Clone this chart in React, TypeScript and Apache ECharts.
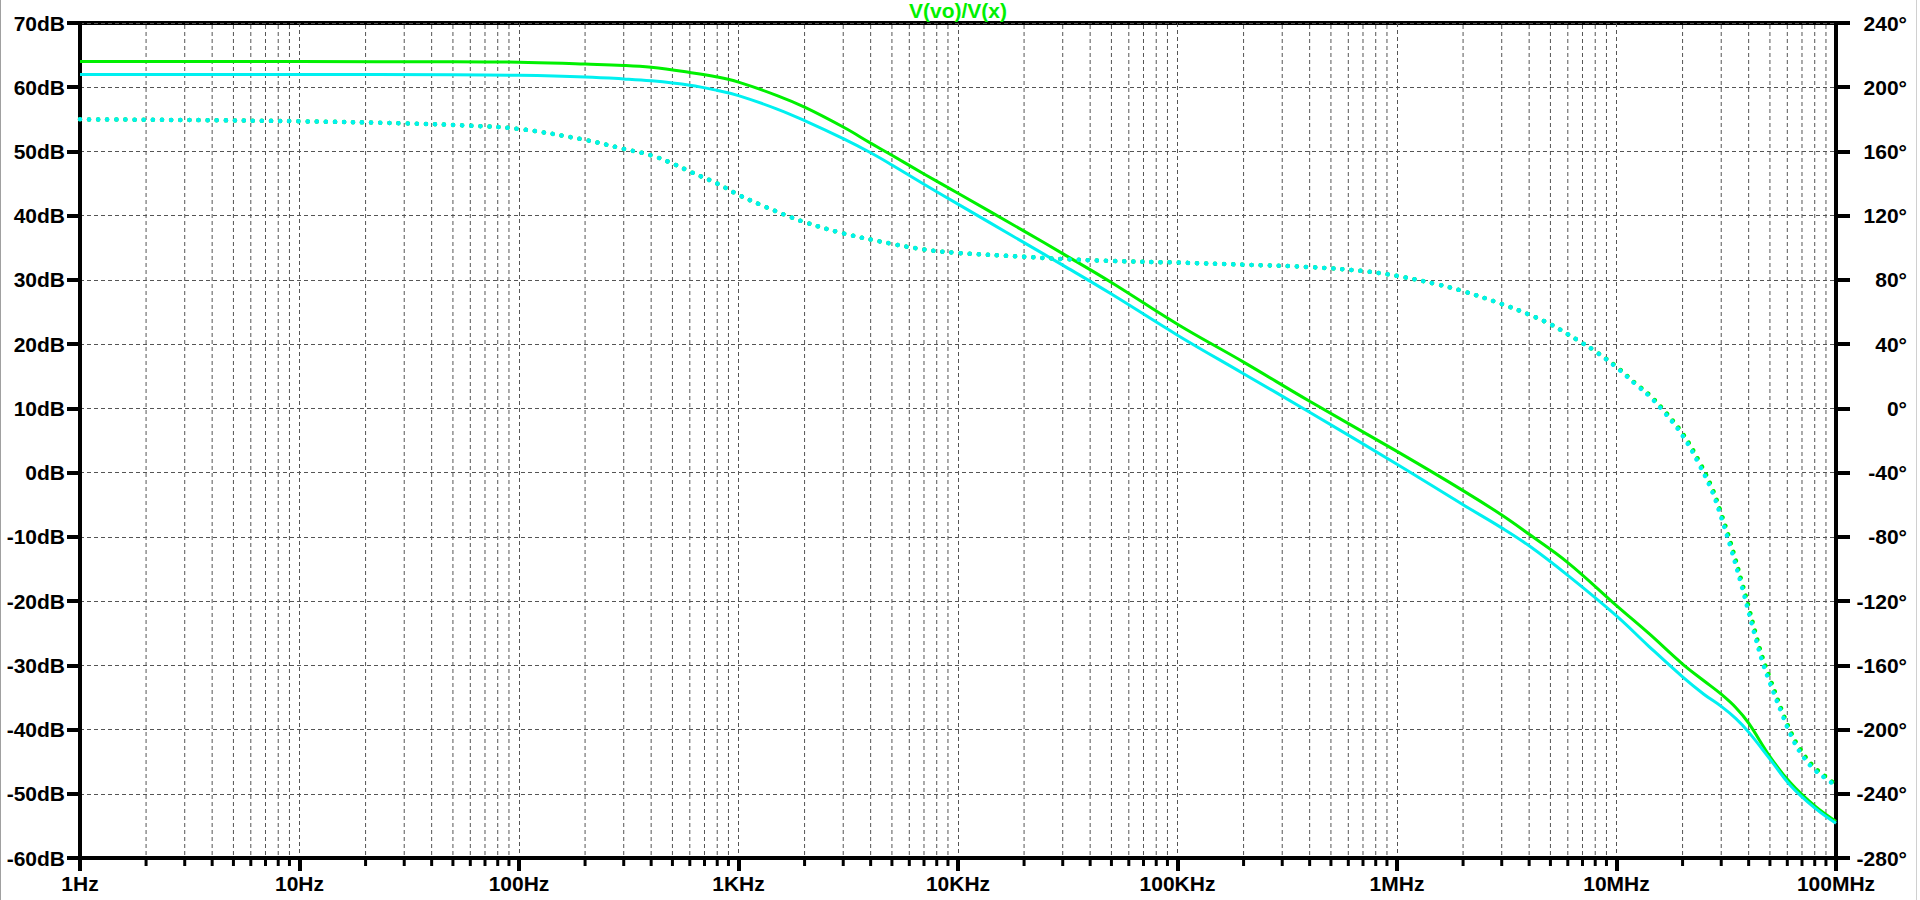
import React, { useEffect, useRef } from "react";
import * as echarts from "echarts";

// ---------- data ----------
const X_LABELS = ["1Hz", "10Hz", "100Hz", "1KHz", "10KHz", "100KHz", "1MHz", "10MHz", "100MHz"];
const DECADES = [1, 10, 100, 1e3, 1e4, 1e5, 1e6, 1e7];
const MINOR_MULTIPLIERS = [2, 3, 4, 5, 6, 7, 8, 9];

const FREQ_MAG = [
  1, 10, 50, 100, 200, 300, 400, 600, 800, 1000, 1500, 2000, 3000, 4000, 5000, 7000,
  1e4, 2e4, 3e4, 5e4, 1e5, 2e5, 4e5, 1e6, 2e6, 3e6, 4e6, 6e6, 1e7, 1.4e7, 2e7,
  2.5e7, 3e7, 3.5e7, 4e7, 5e7, 6.2e7, 8e7, 1e8,
];
const GREEN_MAG = [
  64.0, 64.0, 63.95, 63.9, 63.6, 63.4, 63.1, 62.3, 61.6, 60.8, 58.7, 56.9, 53.8, 51.3, 49.4, 46.5,
  43.5, 37.6, 34.1, 29.6, 23.1, 17.2, 11.1, 3.3, -2.8, -6.6, -9.6, -14.0, -20.7, -25.0, -29.8,
  -32.4, -34.5, -36.6, -39.0, -44.2, -48.3, -51.9, -54.3,
];
const CYAN_MAG = [
  62.0, 62.0, 61.95, 61.85, 61.6, 61.3, 61.0, 60.3, 59.5, 58.7, 56.6, 54.8, 52.0, 49.8, 47.9, 44.9,
  41.8, 35.8, 32.3, 27.8, 21.4, 15.4, 9.4, 1.3, -5.0, -8.6, -11.4, -16.0, -22.3, -27.0, -31.8,
  -34.5, -36.4, -38.3, -40.4, -44.6, -48.7, -52.2, -54.6,
];

const FREQ_PHASE = [
  1, 3, 10, 30, 60, 100, 200, 300, 400, 500, 600, 800, 1000, 1300, 1700, 2000, 3000, 5000, 7000,
  1e4, 2e4, 3e4, 5e4, 1e5, 2e5, 4e5, 7e5, 1e6, 1.5e6, 2e6, 3e6, 4e6, 5e6, 6e6, 7e6, 8e6,
  1e7, 1.22e7, 1.4e7, 1.64e7, 2e7, 2.38e7, 2.73e7, 3e7, 3.3e7, 3.74e7, 4e7, 4.3e7, 4.6e7,
  5e7, 5.7e7, 6.2e7, 6.85e7, 7.9e7, 9.3e7, 1e8,
];
const GREEN_PHASE = [
  180.0, 179.6, 178.8, 177.5, 176.0, 174.0, 167.2, 161.6, 157.6, 152.5, 147.5, 140.0, 133.0, 126.0, 119.5, 116.0, 109.0, 102.5, 99.0,
  96.8, 94.4, 93.0, 91.8, 90.8, 89.5, 88.0, 85.5, 82.5, 77.5, 73.0, 65.0, 58.4, 52.4, 46.2, 40.6, 35.6,
  26.0, 15.6, 8.9, -1.0, -15.6, -33.0, -49.9, -65.5, -83.0, -109.0, -123.6, -140.0, -154.0,
  -168.0, -189.0, -201.0, -212.0, -223.0, -231.0, -234.5,
];
const CYAN_PHASE = [
  180.0, 179.6, 178.8, 177.5, 176.0, 174.0, 167.2, 161.6, 157.6, 152.5, 147.5, 140.0, 133.0, 126.0, 119.5, 116.0, 109.0, 102.5, 99.0,
  96.8, 94.4, 93.0, 91.8, 90.8, 89.5, 88.0, 85.5, 82.5, 77.5, 73.0, 65.0, 58.4, 52.4, 46.2, 40.6, 35.6,
  25.5, 15.0, 8.0, -2.0, -17.0, -35.0, -52.0, -68.0, -86.0, -112.0, -127.0, -143.0, -157.0,
  -171.0, -191.0, -203.0, -214.0, -224.5, -232.0, -235.0,
];

const GREEN = "#00f000";
const CYAN = "#00f0f0";
const FONT = "'Liberation Sans', Arial, sans-serif";

const pairs = (xs: number[], ys: number[]) => xs.map((x, i) => [x, ys[i]]);

export default function App() {
  const ref = useRef<HTMLDivElement>(null);

  useEffect(() => {
    if (!ref.current) return;
    const chart = echarts.init(ref.current, undefined, { renderer: "svg" });

    const minorFreqs: number[][] = [];
    DECADES.forEach((d) => MINOR_MULTIPLIERS.forEach((m) => minorFreqs.push([d * m, -60])));

    const labelStyle = {
      color: "#000",
      fontFamily: FONT,
      fontWeight: "bold" as const,
      fontSize: 21,
    };
    const gridLine = {
      show: true,
      lineStyle: { color: "#555", width: 1, type: [4, 3] as number[] },
    };

    chart.setOption({
      animation: false,
      backgroundColor: "#fff",
      grid: {
        left: 80,
        right: 84,
        top: 23,
        bottom: 42,
        show: true,
        borderColor: "#000",
        borderWidth: 4,
        backgroundColor: "#fff",
      },
      graphic: [
        {
          type: "text",
          x: 958,
          y: 0,
          style: {
            text: "V(vo)/V(x)",
            fill: GREEN,
            font: `bold 21px ${FONT}`,
            textAlign: "center",
            textVerticalAlign: "top",
          },
        },
        { type: "rect", shape: { x: 0, y: 0, width: 1, height: 900 }, style: { fill: "#a0a0a0" } },
        { type: "rect", shape: { x: 1916, y: 0, width: 1, height: 900 }, style: { fill: "#d0d0d0" } },
      ],
      xAxis: {
        type: "log",
        logBase: 10,
        min: 1,
        max: 1e8,
        splitNumber: 8,
        axisLine: { show: true, onZero: false, lineStyle: { color: "#000", width: 4 } },
        axisTick: { show: true, inside: false, length: 13, lineStyle: { color: "#000", width: 4 } },
        minorTick: { show: false },
        splitLine: gridLine,
        axisLabel: {
          ...labelStyle,
          margin: 15,
          formatter: (v: number) => X_LABELS[Math.round(Math.log10(v))] ?? "",
        },
      },
      yAxis: [
        {
          type: "value",
          min: -60,
          max: 70,
          interval: 10,
          position: "left",
          axisLine: { show: true, onZero: false, lineStyle: { color: "#000", width: 4 } },
          axisTick: { show: true, inside: false, length: 13, lineStyle: { color: "#000", width: 4 } },
          splitLine: gridLine,
          axisLabel: { ...labelStyle, margin: 15, formatter: (v: number) => `${v}dB` },
        },
        {
          type: "value",
          min: -280,
          max: 240,
          interval: 40,
          position: "right",
          axisLine: { show: true, onZero: false, lineStyle: { color: "#000", width: 4 } },
          axisTick: { show: true, inside: false, length: 14, lineStyle: { color: "#000", width: 4 } },
          splitLine: { show: false },
          axisLabel: { ...labelStyle, margin: 71, align: "right", formatter: (v: number) => `${v}°` },
        },
      ],
      series: [
        {
          type: "custom",
          name: "minor",
          xAxisIndex: 0,
          yAxisIndex: 0,
          clip: false,
          silent: true,
          z: 1,
          data: minorFreqs,
          renderItem: (_params: any, api: any) => {
            const v = api.value(0);
            const top = api.coord([v, 70]);
            const bot = api.coord([v, -60]);
            return {
              type: "group",
              children: [
                {
                  type: "line",
                  shape: { x1: top[0], y1: top[1] + 2, x2: bot[0], y2: bot[1] - 2 },
                  style: { stroke: "#555", lineWidth: 1, lineDash: [4, 3] },
                },
                {
                  type: "line",
                  shape: { x1: bot[0], y1: bot[1], x2: bot[0], y2: bot[1] + 8 },
                  style: { stroke: "#000", lineWidth: 3 },
                },
              ],
            };
          },
        },
        {
          type: "line",
          name: "mag green",
          yAxisIndex: 0,
          data: pairs(FREQ_MAG, GREEN_MAG),
          showSymbol: false,
          smooth: 0.4,
          z: 3,
          lineStyle: { color: GREEN, width: 3 },
        },
        {
          type: "line",
          name: "mag cyan",
          yAxisIndex: 0,
          data: pairs(FREQ_MAG, CYAN_MAG),
          showSymbol: false,
          smooth: 0.4,
          z: 3,
          lineStyle: { color: CYAN, width: 3 },
        },
        {
          type: "line",
          name: "phase green",
          yAxisIndex: 1,
          data: pairs(FREQ_PHASE, GREEN_PHASE),
          showSymbol: false,
          smooth: 0.4,
          z: 4,
          lineStyle: { color: GREEN, width: 4.5, type: [0.1, 9], cap: "round" },
        },
        {
          type: "line",
          name: "phase cyan",
          yAxisIndex: 1,
          data: pairs(FREQ_PHASE, CYAN_PHASE),
          showSymbol: false,
          smooth: 0.4,
          z: 4,
          lineStyle: { color: CYAN, width: 4.5, type: [0.1, 9], cap: "round" },
        },
      ],
    });

    return () => chart.dispose();
  }, []);

  return (
    <div
      ref={ref}
      style={{ position: "absolute", left: 0, top: 0, width: 1920, height: 900, background: "#fff" }}
    />
  );
}
